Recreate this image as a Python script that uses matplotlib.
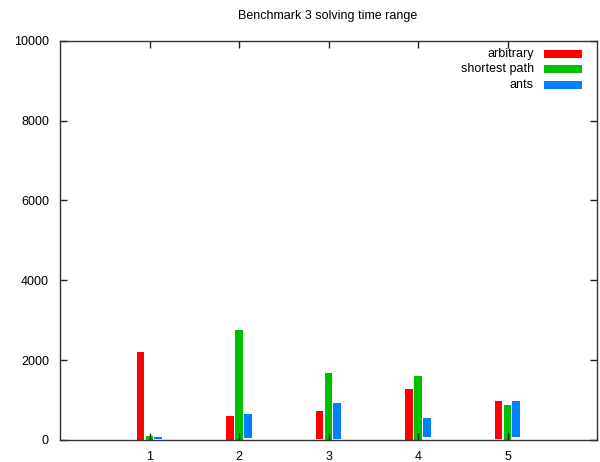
import matplotlib
matplotlib.use("Agg")
import matplotlib.pyplot as plt
from matplotlib.patches import Rectangle
import numpy as np

plt.rcParams['font.family'] = ['Liberation Sans', 'DejaVu Sans']

benchmarks = [1, 2, 3, 4, 5]
series = ["arbitrary", "shortest path", "ants"]
colors = ["#ff0000", "#00c000", "#0080ff"]

# min / max solving time per benchmark instance
arb_low = [0, 0, 25, 0, 25]
arb_high = [2200, 600, 725, 1280, 980]
sp_low = [0, 0, 0, 0, 0]
sp_high = [100, 2750, 1675, 1600, 875]
ants_low = [30, 50, 25, 75, 75]
ants_high = [75, 650, 925, 550, 980]

lows = [arb_low, sp_low, ants_low]
highs = [arb_high, sp_high, ants_high]

fig = plt.figure(figsize=(6, 4.62), dpi=100)
ax = fig.add_axes([60/600, 22/462, 537/600, 399.3/462])

x = np.array(benchmarks)
offsets = [-0.1, 0.0, 0.097]
for lo, hi, c, off in zip(lows, highs, colors, offsets):
    lo = np.array(lo)
    hi = np.array(hi)
    ax.bar(x + off, hi - lo, bottom=lo, width=0.088, color=c, linewidth=0)

ax.set_xlim(0, 6)
ax.set_ylim(0, 10000)
ax.set_xticks(benchmarks)
ax.set_yticks(range(0, 10001, 2000))
ax.tick_params(direction='in', length=5, width=1, color='#222222',
               labelsize=9, right=True, top=True, pad=8)
ax.tick_params(axis='y', pad=8)
for s in ax.spines.values():
    s.set_color('#333333')
    s.set_linewidth(1)

fig.text(328/600, 1 - 16/462, "Benchmark 3 solving time range",
         ha='center', va='center', fontsize=9)

# legend drawn by hand, gnuplot style
rows = [53.5, 69, 84.5]
for name, c, yy in zip(series, colors, rows):
    fig.text(534/600, 1 - yy/462, name, ha='right', va='center', fontsize=9)
    fig.add_artist(Rectangle((544/600, 1 - (yy + 4)/462), 37.5/600, 8/462,
                             transform=fig.transFigure, color=c, linewidth=0))

fig.savefig("out.png", dpi=100)
